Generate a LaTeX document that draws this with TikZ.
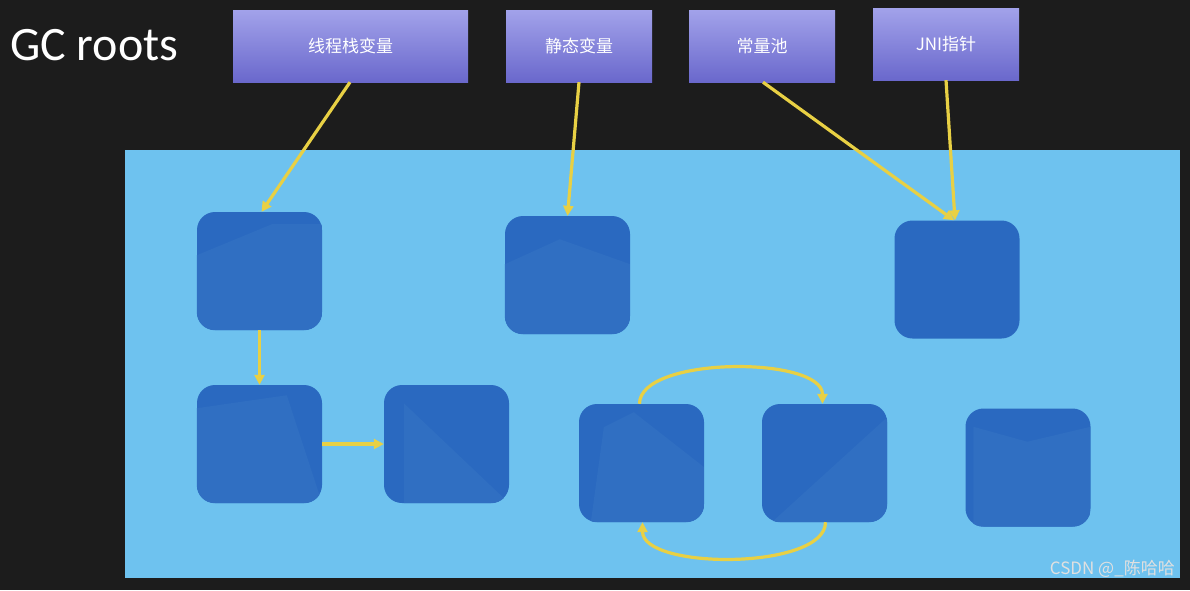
\documentclass[tikz,border=0pt]{standalone}
\usepackage{fontspec}
\setmainfont{Carlito}
\newfontfamily\cjk{Noto Sans CJK SC}
\usetikzlibrary{arrows.meta}
\definecolor{bgblack}{HTML}{1C1C1C}
\definecolor{heap}{HTML}{6EC2EF}
\definecolor{obj}{HTML}{2A69C0}
\definecolor{objshade}{HTML}{306FC2}
\definecolor{rootTop}{HTML}{A2A2EA}
\definecolor{rootBot}{HTML}{6A68CC}
\definecolor{arr}{HTML}{E8D044}
\tikzset{
  rootbox/.style={draw=none, top color=rootTop, bottom color=rootBot,
    minimum width=146pt, minimum height=72pt, inner sep=0pt,
    font=\cjk\fontsize{17}{20}\selectfont, text=white},
  objbox/.style={fill=obj, draw=none, rounded corners=18pt,
    minimum width=125pt, minimum height=118pt, inner sep=0pt},
  link/.style={draw=arr, line width=3.2pt,
    -{Triangle[length=10pt,width=10pt]}},
}
\begin{document}
\begin{tikzpicture}[x=1pt,y=-1pt]
\fill[bgblack] (0,0) rectangle (1190,590);
\useasboundingbox (0,0) rectangle (1190,590);
% title
\node[anchor=west, text=white, font=\fontsize{48}{52}\selectfont, inner sep=0pt] (title) at (10,45) {GC roots};
% roots
\node[rootbox, minimum width=235pt] (r1) at (350.5,46) {线程栈变量};
\node[rootbox] (r2) at (579,46) {静态变量};
\node[rootbox] (r3) at (762,46) {常量池};
\node[rootbox] (r4) at (946,44) {JNI指针};
% heap
\node[fill=heap, draw=none, minimum width=1055pt, minimum height=428pt, inner sep=0pt] (heapbox) at (652.5,364) {};
% objects
\node[objbox] (a) at (259.5,271) {};
\node[objbox] (b) at (567.5,275) {};
\node[objbox] (c) at (957,279.5) {};
\node[objbox] (d) at (259.5,444) {};
\node[objbox] (e) at (446.5,444) {};
\node[objbox] (f) at (641.5,463) {};
\node[objbox] (g) at (824.5,463) {};
\node[objbox] (h) at (1028,467.5) {};
% faint texture shading
\begin{scope}
\clip[rounded corners=18pt] (a.south west) rectangle (a.north east);
\fill[objshade] (a.south west) -- ([yshift=75pt]a.south west) -- ([xshift=75pt,yshift=106pt]a.south west) -- ([yshift=106pt]a.south east) -- (a.south east) -- cycle;
\end{scope}
\begin{scope}
\clip[rounded corners=18pt] (b.south west) rectangle (b.north east);
\fill[objshade] (b.south west) -- ([yshift=70pt]b.south west) -- ([xshift=55pt,yshift=95pt]b.south west) -- ([yshift=70pt]b.south east) -- (b.south east) -- cycle;
\end{scope}
\begin{scope}
\clip[rounded corners=18pt] (d.south west) rectangle (d.north east);
\fill[objshade] (d.south west) -- ([yshift=95pt]d.south west) -- ([xshift=90pt,yshift=108pt]d.south west) -- (d.south east) -- cycle;
\end{scope}
\begin{scope}
\clip[rounded corners=18pt] (e.south west) rectangle (e.north east);
\fill[objshade] ([xshift=20pt]e.south west) -- ([xshift=20pt,yshift=100pt]e.south west) -- (e.south east) -- cycle;
\end{scope}
\begin{scope}
\clip[rounded corners=18pt] (f.south west) rectangle (f.north east);
\fill[objshade] ([xshift=12pt]f.south west) -- ([xshift=25pt,yshift=95pt]f.south west) -- ([xshift=55pt,yshift=110pt]f.south west) -- ([yshift=55pt]f.south east) -- (f.south east) -- cycle;
\end{scope}
\begin{scope}
\clip[rounded corners=18pt] (g.south west) rectangle (g.north east);
\fill[objshade] ([xshift=10pt]g.south west) -- ([yshift=105pt]g.south east) -- (g.south east) -- cycle;
\end{scope}
\begin{scope}
\clip[rounded corners=18pt] (h.south west) rectangle (h.north east);
\fill[objshade] ([xshift=8pt]h.south west) -- ([xshift=8pt,yshift=100pt]h.south west) -- ([xshift=62pt,yshift=85pt]h.south west) -- ([yshift=100pt]h.south east) -- (h.south east) -- cycle;
\end{scope}
% links
\draw[link] ([xshift=-0.5pt]r1.south) -- ([xshift=2pt]a.north);
\draw[link] (r2.south) -- (b.north);
\draw[link] ([xshift=1pt]r3.south) -- ([xshift=-3pt]c.north);
\draw[link] (r4.south) -- ([xshift=-2pt]c.north);
\draw[link] (a.south) -- (d.north);
\draw[link] (d.east) -- (e.west);
\draw[link] ([xshift=-2pt]f.north) .. controls ([xshift=-2pt,yshift=48pt]f.north) and ([xshift=-2pt,yshift=48pt]g.north) .. ([xshift=-2pt]g.north);
\draw[link] ([xshift=1pt]g.south) .. controls ([xshift=1pt,yshift=-48pt]g.south) and ([xshift=1pt,yshift=-48pt]f.south) .. ([xshift=1pt]f.south);
% watermark
\node[anchor=east, text=white!88!black, font=\cjk\fontsize{17}{19}\selectfont, inner sep=0pt] (wm) at (1175,569) {CSDN @\_陈哈哈};
\end{tikzpicture}
\end{document}
